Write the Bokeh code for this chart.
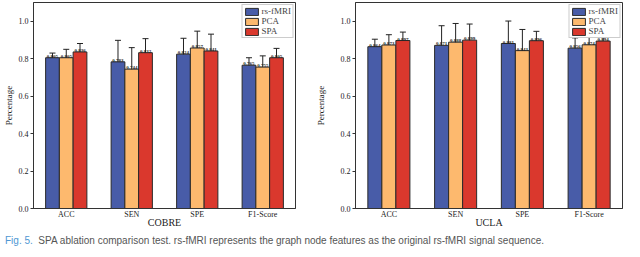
from bokeh.plotting import figure
from bokeh.models import (ColumnDataSource, Whisker, FactorRange, Range1d, Legend, LegendItem,
                          Div, FixedTicker, PrintfTickFormatter, TeeHead)
from bokeh.transform import dodge
from bokeh.core.properties import value
from bokeh.layouts import row, column
from bokeh.embed import file_html
from bokeh.resources import INLINE

categories = ["ACC", "SEN", "SPE", "F1-Score"]
series_names = ["rs-fMRI", "PCA", "SPA"]

cobre_rs = [0.805, 0.783, 0.824, 0.765]
cobre_pca = [0.805, 0.744, 0.857, 0.755]
cobre_spa = [0.836, 0.832, 0.841, 0.805]
cobre_rs_err = [0.025, 0.115, 0.085, 0.040]
cobre_pca_err = [0.045, 0.115, 0.090, 0.060]
cobre_spa_err = [0.045, 0.075, 0.090, 0.050]

ucla_rs = [0.864, 0.871, 0.881, 0.856]
ucla_pca = [0.873, 0.888, 0.843, 0.874]
ucla_spa = [0.897, 0.899, 0.896, 0.894]
ucla_rs_err = [0.040, 0.105, 0.120, 0.055]
ucla_pca_err = [0.055, 0.100, 0.113, 0.058]
ucla_spa_err = [0.045, 0.086, 0.050, 0.055]

y_ticks = [0.0, 0.2, 0.4, 0.6, 0.8, 1.0]

colors = ["#485ca8", "#fdb96e", "#da382d"]
offsets = [-0.21, 0.0, 0.21]
BAR_W = 0.21
SERIF = "Liberation Serif"


def make_panel(title, vals, errs, left_border, right_border, label_standoff):
    p = figure(width=312, height=230, x_range=FactorRange(*categories),
               y_range=Range1d(0, 1.1), output_backend="svg", toolbar_location=None,
               min_border_left=left_border, min_border_right=right_border,
               min_border_top=2, min_border_bottom=0)
    p.grid.visible = False
    p.outline_line_color = "#333333"
    p.outline_line_width = 1
    p.background_fill_color = "white"

    items = []
    for name, v, e, c, off in zip(series_names, vals, errs, colors, offsets):
        src = ColumnDataSource(dict(
            cat=categories, val=v,
            upper=[a + b for a, b in zip(v, e)],
            lower=[a - b for a, b in zip(v, e)],
            lbl=["%.3f" % a for a in v]))
        r = p.vbar(x=dodge("cat", off, range=p.x_range), top="val", width=BAR_W,
                   source=src, fill_color=c, line_color="#2a2a2a", line_width=1)
        items.append(LegendItem(label=name, renderers=[r]))
        w = Whisker(base=dodge("cat", off, range=p.x_range), upper="upper", lower="lower",
                    source=src, line_color="#222222", line_width=1,
                    upper_head=TeeHead(size=6, line_color="#222222", line_width=1),
                    lower_head=TeeHead(size=6, line_color="#222222", line_width=1))
        p.add_layout(w)
        p.text(x=dodge("cat", off, range=p.x_range), y="val", text="lbl", source=src,
               text_font=value(SERIF), text_font_style="bold", text_font_size="5px",
               text_align="center", text_baseline="bottom", text_color="#222222",
               y_offset=0)

    legend = Legend(items=items, location="top_right")
    legend.label_text_font = SERIF
    legend.label_text_font_size = "9px"
    legend.glyph_height = 9
    legend.glyph_width = 16
    legend.label_height = 9
    legend.spacing = 0
    legend.padding = 1
    legend.margin = 2
    legend.label_standoff = 2
    legend.border_line_color = "#999999"
    legend.background_fill_alpha = 1
    p.add_layout(legend)

    p.yaxis.ticker = FixedTicker(ticks=y_ticks)
    p.yaxis.formatter = PrintfTickFormatter(format="%.1f")
    p.yaxis.axis_label = "Percentage"
    p.yaxis.axis_label_text_font = SERIF
    p.yaxis.axis_label_text_font_style = "normal"
    p.yaxis.axis_label_text_font_size = "9px"
    p.yaxis.axis_label_standoff = label_standoff
    p.yaxis.major_label_text_font = SERIF
    p.yaxis.major_label_text_font_size = "8px"
    p.yaxis.major_label_standoff = 2
    p.yaxis.major_tick_out = 3
    p.yaxis.major_tick_in = 0
    p.yaxis.minor_tick_line_color = None

    p.xaxis.axis_label = title
    p.xaxis.axis_label_text_font = SERIF
    p.xaxis.axis_label_text_font_style = "normal"
    p.xaxis.axis_label_text_font_size = "10px"
    p.xaxis.axis_label_standoff = -5
    p.xaxis.major_label_text_font = SERIF
    p.xaxis.major_label_text_font_size = "8px"
    p.xaxis.major_label_standoff = 1
    p.xaxis.major_tick_out = 0
    p.xaxis.major_tick_in = 0
    p.xaxis.major_tick_line_color = None

    for ax in (p.xaxis[0], p.yaxis[0]):
        ax.axis_line_color = "#333333"
        ax.major_label_text_color = "#222222"
        ax.axis_label_text_color = "#222222"
    p.yaxis.major_tick_line_color = "#333333"
    return p


p1 = make_panel("COBRE", [cobre_rs, cobre_pca, cobre_spa],
                [cobre_rs_err, cobre_pca_err, cobre_spa_err], 28, 17, 2)
p2 = make_panel("UCLA", [ucla_rs, ucla_pca, ucla_spa],
                [ucla_rs_err, ucla_pca_err, ucla_spa_err], 42, 2, 12)

caption = Div(text='<span style="color:#4f97d3">Fig. 5.</span>&nbsp;&nbsp;'
                   '<span style="color:#555555">SPA ablation comparison test. rs-fMRI represents '
                   'the graph node features as the original rs-fMRI signal sequence.</span>',
              width=624, height=11,
              styles={"font-family": "Liberation Sans", "font-size": "10px",
                      "line-height": "11px", "white-space": "nowrap"})

layout = column(row(p1, p2), caption)
open("out.html", "w").write(file_html(layout, INLINE))
